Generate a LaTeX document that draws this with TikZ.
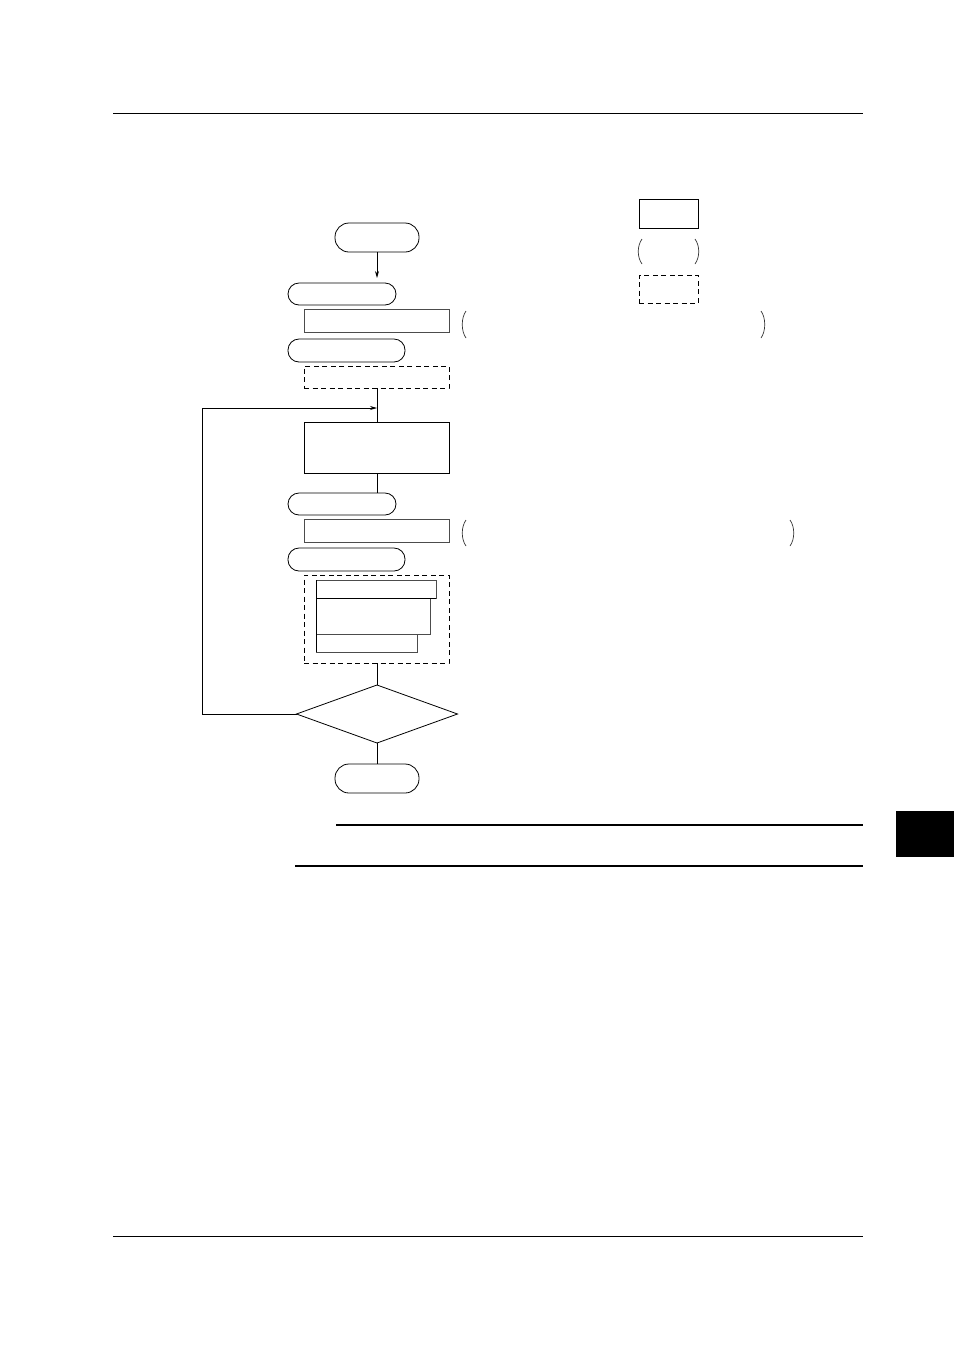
\documentclass[tikz,border=0pt]{standalone}
\usetikzlibrary{arrows.meta,shapes.geometric}
\begin{document}
\begin{tikzpicture}[x=1pt,y=-1pt,
  ln/.style={line width=0.8pt},
  base/.style={ln,draw,inner sep=0pt,outer sep=0pt},
  term/.style={base,rectangle,rounded corners=11pt},
  bigterm/.style={base,rectangle,rounded corners=14pt},
  boxs/.style={base,rectangle},
  boxg/.style={base,rectangle,line width=0.9pt,draw=black!70},
  dbox/.style={base,rectangle,dash pattern=on 5pt off 3.5pt},
  dia/.style={base,diamond},
  arr/.style={ln,-{Stealth[length=7pt,width=4pt]}},
  paren/.style={line width=0.7pt,draw=black!80}]
\useasboundingbox (0,0) rectangle (954,1350);
% page rules
\draw[line width=0.9pt] (113,113) -- (863,113);
\draw[line width=0.9pt] (113,1236) -- (863,1236);
\draw[line width=1.1pt] (336,825) -- (863,825);
\draw[line width=2pt] (295,866) -- (863,866);
\fill (896,811) rectangle (954,857);
% legend
\node[boxs,minimum width=59pt,minimum height=29pt] (lg1) at (668.5,213.5) {};
\draw[paren] (642,239) .. controls (637,246) and (637,257) .. (642,264);
\draw[paren] (695,239) .. controls (700,246) and (700,257) .. (695,264);
\node[dbox,minimum width=59pt,minimum height=28pt] (lg3) at (668.5,289) {};
% flow nodes
\node[bigterm,minimum width=84pt,minimum height=29pt] (start) at (377,237.5) {};
\node[term,minimum width=108pt,minimum height=22pt] (t2) at (342,294) {};
\node[boxg,minimum width=145pt,minimum height=23pt] (r1) at (376.5,320.5) {};
\node[term,minimum width=117pt,minimum height=23pt] (t3) at (346.5,350.5) {};
\node[dbox,minimum width=145pt,minimum height=22pt] (d1) at (376.5,377) {};
\node[boxs,minimum width=145pt,minimum height=51pt] (big) at (376.5,447.5) {};
\node[term,minimum width=108pt,minimum height=22pt] (t4) at (342,504) {};
\node[boxg,minimum width=145pt,minimum height=23pt] (r2) at (376.5,530.5) {};
\node[term,minimum width=117pt,minimum height=23pt] (t5) at (346.5,559.5) {};
\node[dbox,minimum width=145pt,minimum height=88pt] (d2) at (376.5,619) {};
\node[boxg,minimum width=120pt,minimum height=18pt] (ia) at (376,589) {};
\node[boxg,minimum width=114pt,minimum height=36pt] (ib) at (373,616) {};
\node[boxg,minimum width=101pt,minimum height=18pt] (ic) at (366.5,643) {};
\draw[ln] (ia.south west) -- (ia.south east) (ia.north west) -- (ic.south west);
\node[dia,minimum width=161pt,minimum height=58pt] (dec) at (377,714) {};
\node[bigterm,minimum width=84pt,minimum height=29pt] (stop) at (377,778.5) {};
% parens
\draw[paren] (466,311) .. controls (461,318) and (461,331) .. (466,338);
\draw[paren] (761,311) .. controls (766,318) and (766,331) .. (761,338);
\draw[paren] (466,520) .. controls (461,527) and (461,539) .. (466,546);
\draw[paren] (790,520) .. controls (795,527) and (795,539) .. (790,546);
% connectors
\coordinate (t2in) at (377,278);
\coordinate (loopin) at (377,408);
\coordinate (loopl) at (202,714);
\draw[arr] (start.south) -- (t2in);
\draw[ln] (d1.south -| start) -- (big.north -| start);
\draw[ln] (big.south -| start) -- (t4.north -| start);
\draw[ln] (d2.south -| start) -- (dec.north);
\draw[ln] (dec.south) -- (stop.north);
\draw[arr] (dec.west) -- (loopl) |- (loopin);
\end{tikzpicture}
\end{document}
